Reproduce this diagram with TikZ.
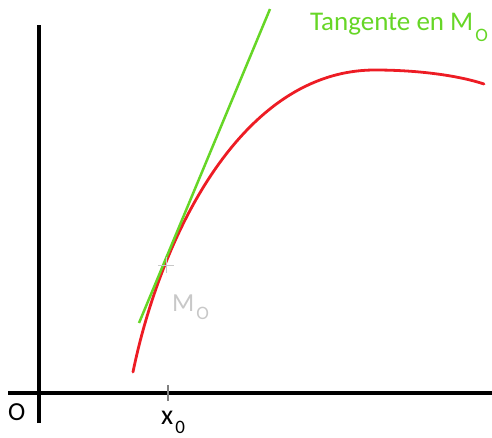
\documentclass[tikz,border=0pt]{standalone}
\usepackage{fontspec}
\setmainfont{Carlito}
\definecolor{curvered}{RGB}{237,28,36}
\definecolor{tangreen}{RGB}{102,214,38}
\definecolor{lightgray}{RGB}{200,200,200}
\newcommand{\lowidx}[2][-10pt]{\raisebox{#1}{\fontsize{19}{19}\selectfont #2}}
\tikzset{
    axis/.style={line width=3.2pt, black},
    label/.style={font=\fontsize{26}{30}\selectfont, inner sep=0pt}
}
\begin{document}
\begin{tikzpicture}[x=1pt, y=-1pt]
        \useasboundingbox (0,0) rectangle (492,437);
        % axes
        \coordinate (xl) at (8,393);
        \coordinate (xr) at (492,393);
        \coordinate (yb) at (39,423);
        \coordinate (yt) at (39,25);
        \draw[axis] (xl) -- (xr);
        \draw[axis] (yb) -- (yt);
        \draw[line width=1.4pt, gray] (168,385) -- (168,401);
        \node[label, anchor=base west] (orig) at (8,420) {O};
        \node[label, anchor=base west] (xzero) at (161,424) {\fontsize{28}{28}\selectfont x\kern2pt\lowidx[-9pt]{0}};
        % courbe
        \draw[curvered, line width=2.8pt, line cap=round] (133,372)
            .. controls (160,240) and (240,70) .. (375,70)
            .. controls (420,70) and (460,76) .. (484,84);
        % tangente
        \coordinate (ta) at (139,323);
        \coordinate (tb) at (270,9);
        \draw[tangreen, line width=2.5pt] (ta) -- (tb);
        % point M0
        \coordinate (m) at (166,265);
        \draw[lightgray, line width=1pt] (m) ++(-8,0) -- ++(16,0);
        \draw[lightgray, line width=1pt] (m) ++(0,-8) -- ++(0,16);
        \node[label, lightgray, anchor=base west] (mzero) at (172,311) {M\kern2pt\lowidx[-8pt]{O}};
        \node[label, tangreen, anchor=base west] (tang) at (310,30) {\fontsize{27}{30}\selectfont Tangente en M\kern2pt\lowidx[-11pt]{O}};
    \end{tikzpicture}
\end{document}
